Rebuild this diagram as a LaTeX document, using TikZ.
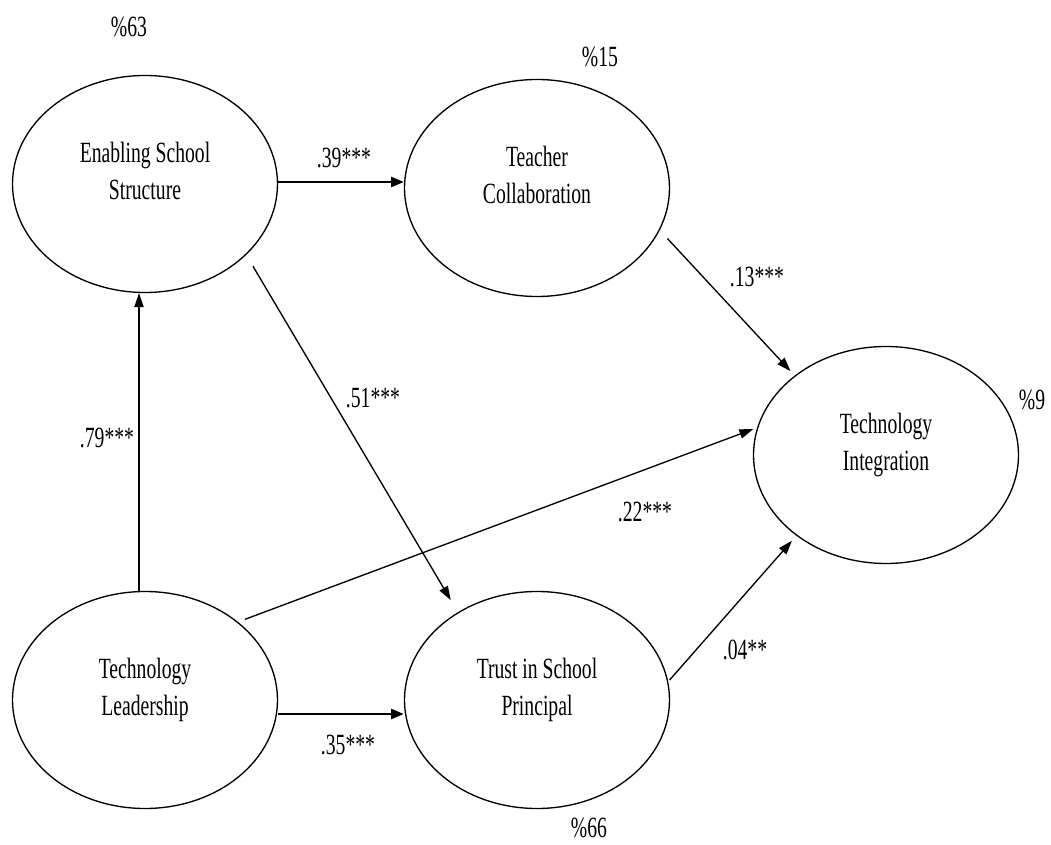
\documentclass[tikz,border=0pt]{standalone}
\usepackage{fontspec}
\newfontfamily\pathfont[FakeStretch=0.67]{Liberation Serif}
\usetikzlibrary{positioning,arrows.meta,shapes.geometric}
\tikzset{
  construct/.style={
    draw, ellipse,
    line width=1pt,
    minimum width=198.75pt,
    minimum height=162.75pt,
    inner sep=0pt,
    align=center,
    text depth=20pt,
    font=\pathfont\fontsize{22pt}{28pt}\selectfont
  },
  estimate/.style={
    inner sep=0pt,
    font=\pathfont\fontsize{22pt}{28pt}\selectfont
  },
  bold path/.style={
    draw, line width=1.9pt,
    -{Triangle[length=9.5pt,width=7.5pt]}
  },
  thin path/.style={
    draw, line width=1pt,
    -{Triangle[length=10.5pt,width=7pt]}
  },
}

\begin{document}
\begin{tikzpicture}[x=0.75pt,y=-0.75pt]
    \useasboundingbox (0,0) rectangle (1051,845);
    \node[construct] (ess) at (145,184) {Enabling School\\Structure};
    \node[construct] (tc) at (537,188) {Teacher\\Collaboration};
    \node[construct] (ti) at (886,455) {Technology\\Integration};
    \node[construct] (tl) at (145,700) {Technology\\Leadership};
    \node[construct] (tp) at (537,700) {Trust in School\\Principal};

    \node[estimate] (r2ess) at (129,27) {\%63};
    \node[estimate] (r2tc) at (600,57) {\%15};
    \node[estimate] (r2ti) at (1032,400) {\%9};
    \node[estimate] (r2tp) at (589,828) {\%66};

    \draw[bold path] ([yshift=1.5pt]ess.east) -- ([yshift=1.5pt]ess.east -| tc.west);
    \draw[bold path] ([yshift=-10.5pt]tl.east) -- ([yshift=-10.5pt]tl.east -| tp.west);
    \draw[thin path] ([xshift=-4.5pt]tl.north) -- ([xshift=-4.5pt]ess.south);
    \draw[thin path, shorten <=10pt, shorten >=10.5pt] (ess.-35) -- (tp.132);
    \draw[thin path, shorten <=5.5pt, shorten >=3pt] (tl.40) -- (ti.168);
    \draw[thin path, shorten <=8.5pt, shorten >=4.5pt] (tc.-19.5) -- (ti.139);
    \draw[thin path, shorten <=1.5pt, shorten >=5pt] (tp.8.6) -- (ti.-138.5);

    \node[estimate] (b1) at (344,158) {.39***};
    \node[estimate] (b2) at (348,745) {.35***};
    \node[estimate] (b3) at (107,438) {.79***};
    \node[estimate] (b4) at (373,398) {.51***};
    \node[estimate] (b5) at (645,512) {.22***};
    \node[estimate] (b6) at (757,277) {.13***};
    \node[estimate] (b7) at (745,650) {.04**};
\end{tikzpicture}
\end{document}
